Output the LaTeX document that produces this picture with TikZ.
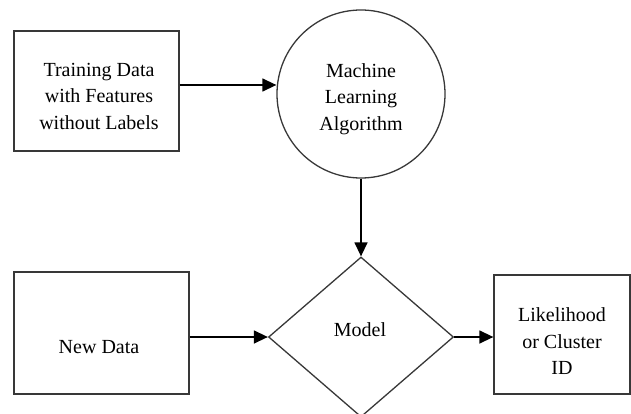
\documentclass[tikz,border=0pt]{standalone}
\usepackage{fontspec}
\setmainfont{Liberation Serif}
\usetikzlibrary{arrows.meta,shapes.geometric}
\begin{document}
\begin{tikzpicture}[x=1pt,y=-1pt,
  shapeline/.style={draw=black!78,line width=1.3pt,fill=white,inner sep=0pt},
  box/.style={shapeline,rectangle},
  circ/.style={shapeline,circle,minimum size=168pt},
  dia/.style={shapeline,diamond,minimum width=185pt,minimum height=160pt},
  txt/.style={align=center,font=\fontsize{20}{26.5}\selectfont,inner sep=0pt},
  arr/.style={draw=black,line width=1.4pt,-{Triangle[length=14pt,width=13pt]}}
]
\useasboundingbox (0,0) rectangle (631,414);
\node[box,minimum width=165pt,minimum height=120pt] (b1) at (96.5,91) {};
\node[circ] (c) at (361,94) {};
\node[dia] (d) at (361,337) {};
\node[box,minimum width=175pt,minimum height=122pt] (b2) at (101.5,333) {};
\node[box,minimum width=136pt,minimum height=119pt] (b3) at (562,334.5) {};
\node[txt] (t1) at (99,96) {Training Data\\with Features\\without Labels};
\node[txt] (t2) at (361,99) {Machine\\Learning\\Algorithm};
\node[txt] (t3) at (360,330) {Model};
\node[txt] (t4) at (99,347) {New Data};
\node[txt] (t5) at (562,341.5) {Likelihood\\or Cluster\\ID};
\draw[arr] ([yshift=6pt]b1.east) -- ([yshift=6pt]b1.east -| c.west);
\draw[arr] (c.south) -- (d.north);
\draw[arr] (b2.east |- d.west) -- (d.west);
\draw[arr] (d.east) -- (d.east -| b3.west);
\end{tikzpicture}
\end{document}
